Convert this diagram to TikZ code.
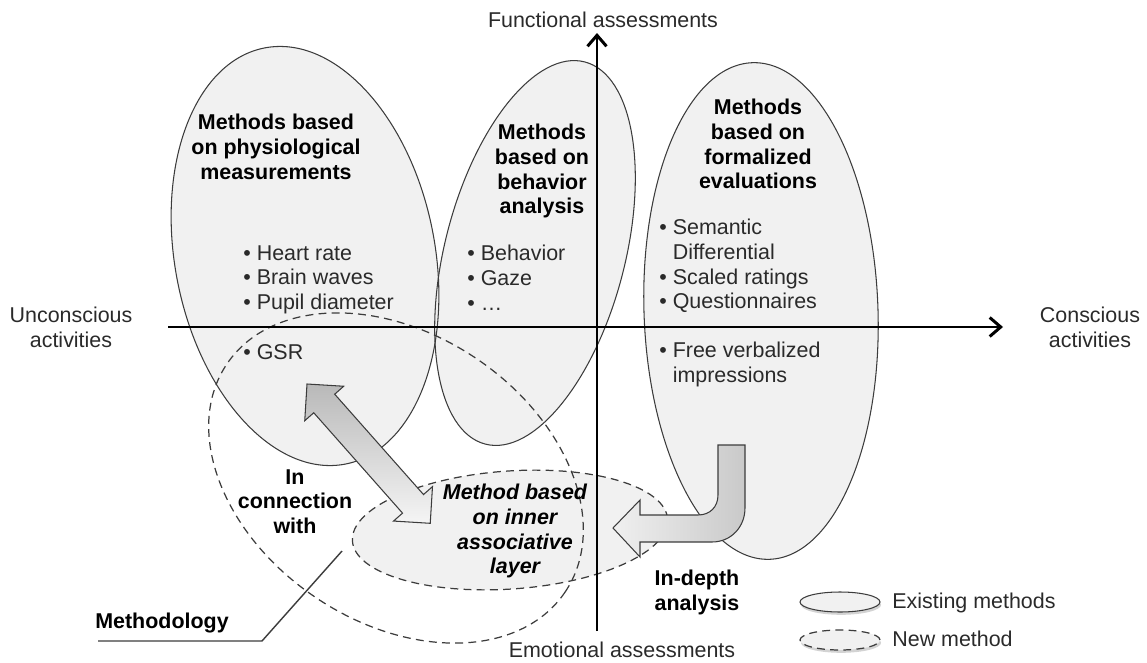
\documentclass[tikz,border=0pt]{standalone}
\usepackage{fontspec}
\setmainfont{Liberation Sans}
\usetikzlibrary{arrows.meta,shadows}
\definecolor{efill}{HTML}{F1F1F1}
\definecolor{eline}{HTML}{3C3C3C}
\definecolor{txt}{HTML}{2A2A2A}
\newcommand\mybul{\textbullet\ }
\begin{document}
\begin{tikzpicture}[x=0.02cm,y=-0.02cm,
  font=\fontsize{12.2}{14}\selectfont,
  exfill/.style={fill=efill},
  exline/.style={draw=eline, line width=0.6pt},
  newline/.style={draw=eline, line width=0.7pt, dash pattern=on 4.5pt off 3pt},
  axis/.style={line width=1.7pt, -{Straight Barb[length=2.2mm,width=3.8mm]}},
  blockarrow/.style={draw=eline, line width=0.6pt},
  plain/.style={inner sep=0pt, text=txt},
  list/.style={inner sep=0pt, text=txt, align=left, anchor=north west},
  title/.style={inner sep=0pt, text=black, align=center, anchor=north, font=\fontsize{12.2}{14}\selectfont\bfseries},
  lshadow/.style={drop shadow={opacity=0.35, shadow xshift=0.6pt, shadow yshift=-1.6pt}}
]
\useasboundingbox (0,0) rectangle (1147,663);

% ---------- fills ----------
\path[exfill, rotate around={11:(305,256)}] (305,256) ellipse [x radius=2.6cm, y radius=4.24cm];
\path[exfill, rotate around={75.4:(535,253)}] (535,253) ellipse [x radius=3.95cm, y radius=1.8cm];
\path[exfill, rotate around={2:(761,311)}] (761,311) ellipse [x radius=2.34cm, y radius=4.97cm];
\path[exfill, rotate around={4:(510,530)}] (510,530) ellipse [x radius=3.16cm, y radius=1.18cm];

% ---------- outlines ----------
\path[exline, rotate around={11:(305,256)}] (305,256) ellipse [x radius=2.6cm, y radius=4.24cm];
\path[exline, rotate around={75.4:(535,253)}] (535,253) ellipse [x radius=3.95cm, y radius=1.8cm];
\path[exline, rotate around={2:(761,311)}] (761,311) ellipse [x radius=2.34cm, y radius=4.97cm];
\path[newline, rotate around={4:(510,530)}] (510,530) ellipse [x radius=3.16cm, y radius=1.18cm];
\path[newline, rotate around={-34:(396,478)}] (396,478) ellipse [x radius=4.08cm, y radius=2.88cm];

% ---------- axes ----------
\coordinate (hstart) at (168,327);
\coordinate (hend) at (1003,327);
\coordinate (vstart) at (597,631);
\coordinate (vend) at (597,33);
\draw[axis] (hstart) -- (hend);
\draw[axis] (vstart) -- (vend);

\node[plain, align=center, anchor=north] (unc) at (71,307) {Unconscious\\activities};
\node[plain, align=center, anchor=north] (con) at (1090,307) {Conscious\\activities};
\node[plain] (func) at (603,20) {Functional assessments};
\node[plain] (emo) at (622,650) {Emotional assessments};

% ---------- block arrows ----------
\begin{scope}[shift={(307,384)}, rotate=-48.5]
\shade[blockarrow, top color=gray!55, bottom color=gray!8]
  (0,0) -- (26,26) -- (26,14) -- (160,14) -- (160,26) -- (186,0)
  -- (160,-26) -- (160,-14) -- (26,-14) -- (26,-26) -- cycle;
\end{scope}

\shade[blockarrow, left color=gray!12, right color=gray!42]
  (718,445) -- (745,445) -- (745,508) .. controls (745,527) and (731,542) .. (712,542)
  -- (640,542) -- (640,557) -- (613,528) -- (640,500) -- (640,515) -- (698,515)
  .. controls (710,515) and (718,507) .. (718,495) -- cycle;

% ---------- texts in ellipses ----------
\node[title] (tphys) at (276,114) {Methods based\\on physiological\\measurements};
\node[list] (lphys) at (243,245) {\mybul Heart rate\\\mybul Brain waves\\\mybul Pupil diameter};
\node[list] (lgsr) at (243,344) {\mybul GSR};

\node[title] (tbeh) at (542,124) {Methods\\based on\\behavior\\analysis};
\node[list] (lbeh) at (467,245) {\mybul Behavior\\\mybul Gaze\\\mybul \dots};

\node[title] (tform) at (758,99) {Methods\\based on\\formalized\\evaluations};
\node[list] (lform) at (659,219) {\mybul Semantic\\\phantom{\mybul}Differential\\\mybul Scaled ratings\\\mybul Questionnaires};
\node[list] (lfree) at (659,342) {\mybul Free verbalized\\\phantom{\mybul}impressions};

\node[title, font=\fontsize{12.2}{14}\selectfont\bfseries\itshape] (tinner) at (515,484) {Method based\\on inner\\associative\\layer};

\node[title] (tconn) at (295,469) {In\\connection\\with};
\node[title] (tdepth) at (697,570) {In-depth\\analysis};

% ---------- methodology label ----------
\node[title, anchor=base] (tmeth) at (162,628) {Methodology};
\coordinate (mlink) at (342,551);
\coordinate (mbend) at (262,641);
\coordinate (mend) at (98,641);
\draw[draw=eline, line width=0.8pt] (mlink) -- (mbend) -- (mend);

% ---------- legend ----------
\path[exfill, exline, lshadow] (840,602) ellipse [x radius=0.8cm, y radius=0.2cm];
\path[exfill, newline, lshadow] (840,640) ellipse [x radius=0.8cm, y radius=0.2cm];
\node[plain, anchor=base west] (lgex) at (892,608) {Existing methods};
\node[plain, anchor=base west] (lgnew) at (892,646) {New method};
\end{tikzpicture}
\end{document}
